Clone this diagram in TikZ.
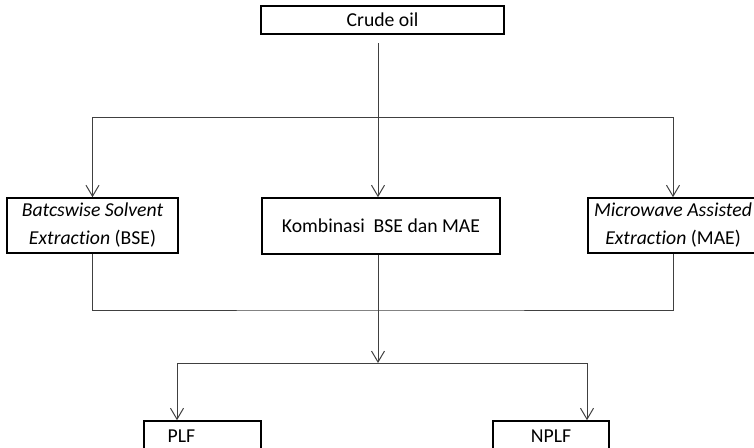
\documentclass[tikz,border=0pt]{standalone}
\usepackage{fontspec}
\setmainfont{Carlito}[Ligatures=NoCommon]
\usetikzlibrary{arrows.meta}

\begin{document}
\begin{tikzpicture}[x=1pt,y=-1pt,
        font=\fontsize{19.7}{28}\selectfont,
        box/.style={draw,line width=1.6pt,inner sep=0pt,align=center},
        flow/.style={draw=black!75,line width=1pt},
        arr/.style={flow,-{Straight Barb[length=11pt,width=13pt,line width=1pt]}}]
                \useasboundingbox (0,0) rectangle (754,447);
                \node[box,minimum width=243pt,minimum height=28pt] (crude) at (382.5,20) {Crude oil};
                \node[box,minimum width=171pt,minimum height=55pt] (bse) at (92.5,225.5)
                    {\textit{Batcswise Solvent}\\\textit{Extraction} (BSE)};
                \node[box,minimum width=238pt,minimum height=56pt] (kombinasi) at (381,226)
                    {Kombinasi\ \ BSE dan MAE};
                \node[box,minimum width=170pt,minimum height=55pt] (mae) at (673,225.5)
                    {\textit{Microwave Assisted}\\\textit{Extraction} (MAE)};
                \node[box,minimum width=117pt,minimum height=30pt,
                    label={[xshift=-21pt,inner sep=0pt]center:PLF}] (plf) at (202.5,436) {};
                \node[box,minimum width=116pt,minimum height=30pt] (nplf) at (551,436) {NPLF};
                \coordinate (start) at (378,43);
                \coordinate (split) at (378,117);
                \coordinate (join) at (378,310);
                \coordinate (fork) at (378,363);
                \draw[flow]
                    (start) -- (split);
                \draw[arr]
                    (split) -| (bse.north);
                \draw[arr]
                    (split) -| (mae.north);
                \draw[arr]
                    (split) -- (split |- kombinasi.north);
                \draw[flow]
                    (bse.south) |- (join) -| (mae.south);
                \draw[arr]
                    (join |- kombinasi.south) -- (fork);
                \draw[arr]
                    (fork) -| ([xshift=-25.5pt]plf.north);
                \draw[arr]
                    (fork) -| ([xshift=36pt]nplf.north);
            \end{tikzpicture}
\end{document}
